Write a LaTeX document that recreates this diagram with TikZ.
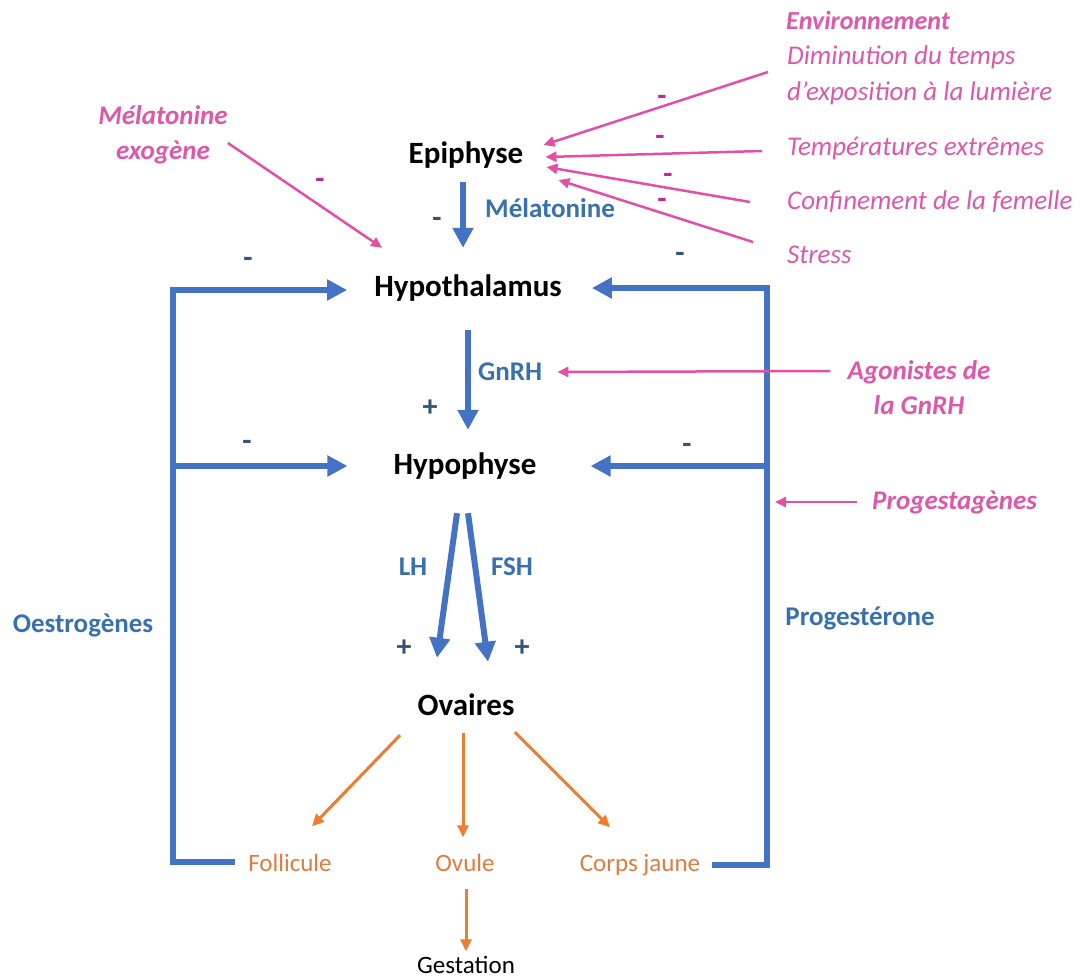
\documentclass[tikz,border=0pt]{standalone}
\usepackage{fontspec}
\setmainfont{Carlito}
\usetikzlibrary{arrows.meta,calc}

\definecolor{bleuaxe}{RGB}{68,114,196}
\definecolor{bleutxt}{RGB}{56,112,176}
\definecolor{bleusigne}{RGB}{50,84,120}
\definecolor{rosefac}{RGB}{226,80,165}
\definecolor{rosetxt}{RGB}{222,88,170}
\definecolor{rosesigne}{RGB}{196,40,140}
\definecolor{orangeprod}{RGB}{237,125,49}
\definecolor{orangetxt}{RGB}{224,124,64}

\begin{document}
\begin{tikzpicture}[x=1pt,y=-1pt,
  organe/.style={font=\fontsize{31}{36}\selectfont\bfseries, inner sep=0pt, text height=22pt, text depth=6pt},
  hormone/.style={text=bleutxt, font=\fontsize{27}{31}\selectfont\bfseries, inner sep=0pt},
  facteur/.style={text=rosetxt, font=\fontsize{27}{36}\selectfont\itshape, inner sep=0pt, align=left},
  facteurgras/.style={facteur, font=\fontsize{27}{35}\selectfont\bfseries\itshape, align=center},
  produit/.style={text=orangetxt, font=\fontsize{25}{30}\selectfont, inner sep=0pt, text height=18pt, text depth=5pt},
  signe/.style={text=bleusigne, font=\fontsize{30}{30}\selectfont\bfseries, inner sep=0pt},
  signerose/.style={signe, text=rosesigne},
  axe/.style={draw=bleuaxe, line width=6pt, -{Triangle[length=20pt,width=20pt]}},
  retro/.style={axe, line join=miter},
  action/.style={draw=rosefac, line width=2.5pt, -{Triangle[length=11pt,width=10pt]}},
  voie/.style={draw=orangeprod, line width=3pt, -{Triangle[length=12pt,width=11pt]}}
]
  \fill[white] (0,0) rectangle (1084,978);
  \useasboundingbox (0,0) rectangle (1084,978);

  % axe hypothalamo-hypophysaire
  \node[organe] (epi) at (466,155) {Epiphyse};
  \node[organe] (hypoth) at (468,288) {Hypothalamus};
  \node[organe] (hypoph) at (465,466) {Hypophyse};
  \node[organe] (ova) at (466,707) {Ovaires};
  \node[produit] (foll) at (290,865) {Follicule};
  \node[produit] (ovule) at (465,865) {Ovule};
  \node[produit] (cj) at (640,865) {Corps jaune};
  \node[produit, text=black] (gest) at (466,967) {Gestation};

  \node[hormone, anchor=west] (melat) at (485,208) {Mélatonine};
  \node[hormone, anchor=west] (gnrh) at (478,372) {GnRH};
  \node[hormone] (lh) at (413,567) {LH};
  \node[hormone] (fsh) at (512,567) {FSH};
  \node[hormone] (oestro) at (83,625) {Oestrogènes};
  \node[hormone] (proges) at (860,618) {Progestérone};

  % facteurs externes
  \node[facteurgras] (exo) at (163,135) {Mélatonine\\exogène};
  \node[facteurgras, font=\fontsize{26}{35}\selectfont\bfseries\itshape, anchor=west] (envir) at (786,20) {Environnement};
  \node[facteur, anchor=west] (dimin) at (787,75) {Diminution du temps\\d’exposition à la lumière};
  \node[facteur, anchor=west] (temp) at (787,148) {Températures extrêmes};
  \node[facteur, anchor=west] (conf) at (787,202) {Confinement de la femelle};
  \node[facteur, anchor=west] (stress) at (787,255) {Stress};
  \node[facteurgras] (agon) at (919,388) {Agonistes de\\la GnRH};
  \node[facteurgras, anchor=west] (progtg) at (872,502) {Progestagènes};

  % signes
  \node[signe] (s1) at (437,222) {-};
  \node[signe] (s2) at (248,262) {-};
  \node[signe] (s3) at (680,257) {-};
  \node[signe] (s4) at (247,445) {-};
  \node[signe] (s5) at (687,448) {-};
  \node[signe] (p1) at (430,408) {+};
  \node[signe] (p2) at (404,648) {+};
  \node[signe] (p3) at (522,648) {+};
  \node[signerose] (r0) at (320,183) {-};
  \node[signerose] (r1) at (662,100) {-};
  \node[signerose] (r2) at (660,140) {-};
  \node[signerose] (r3) at (668,178) {-};
  \node[signerose] (r4) at (662,203) {-};

  % coins des retrocontroles
  \coordinate (gbas) at (173,862);
  \coordinate (ghaut) at (173,290);
  \coordinate (dbas) at (767,865);
  \coordinate (dhaut) at (767,288);

  \draw[axe] ($(epi.south)+(-3,13)$) -- ($(hypoth.north)+(-5,-26)$);
  \draw[axe] ($(hypoth.south)+(0,28)$) -- ($(hypoph.north)+(3,-22)$);
  \draw[axe] ($(hypoph.south)+(-8,33)$) -- ($(ova.north)+(-29,-35)$);
  \draw[axe] ($(hypoph.south)+(3,33)$) -- ($(ova.north)+(22,-31)$);

  \draw[voie] ($(ova.south)+(-66,14)$) -- ($(foll.north)+(22,-27)$);
  \draw[voie] ($(ova.south)+(-3,12)$) -- ($(ovule.north)+(-2,-16)$);
  \draw[voie] ($(ova.south)+(49,11)$) -- ($(cj.north)+(-30,-26)$);
  \draw[voie] ($(ovule.south)+(1,12)$) -- ($(gest.north)+(0,-4)$);

  \draw[retro] ($(foll.west)+(-13,-3)$) -- (gbas) -- (ghaut) -- ($(hypoth.west)+(-27,2)$);
  \draw[axe] (gbas |- hypoph.west) -- ($(hypoph.west)+(-46,0)$);
  \draw[retro] ($(cj.east)+(12,0)$) -- (dbas) -- (dhaut) -- ($(hypoth.east)+(30,0)$);
  \draw[axe] (dbas |- hypoph.east) -- ($(hypoph.east)+(54,0)$);

  \draw[action] ($(exo.east)+(0,8)$) -- ($(hypoth.north west)+(8,-26)$);
  \draw[action] ($(dimin.west)+(-19,-3)$) -- ($(epi.east)+(20,-10)$);
  \draw[action] ($(temp.west)+(-25,3)$) -- ($(epi.east)+(22,2)$);
  \draw[action] ($(conf.west)+(-37,0)$) -- ($(epi.east)+(23,12)$);
  \draw[action] ($(stress.west)+(-34,-13)$) -- ($(epi.east)+(35,25)$);
  \draw[action] ($(agon.west)+(-17,-17)$) -- ($(gnrh.east)+(15,0)$);
  \draw[action] ($(progtg.west)+(-15,0)$) -- ($(dbas |- progtg.west)+(8,0)$);
\end{tikzpicture}
\end{document}
